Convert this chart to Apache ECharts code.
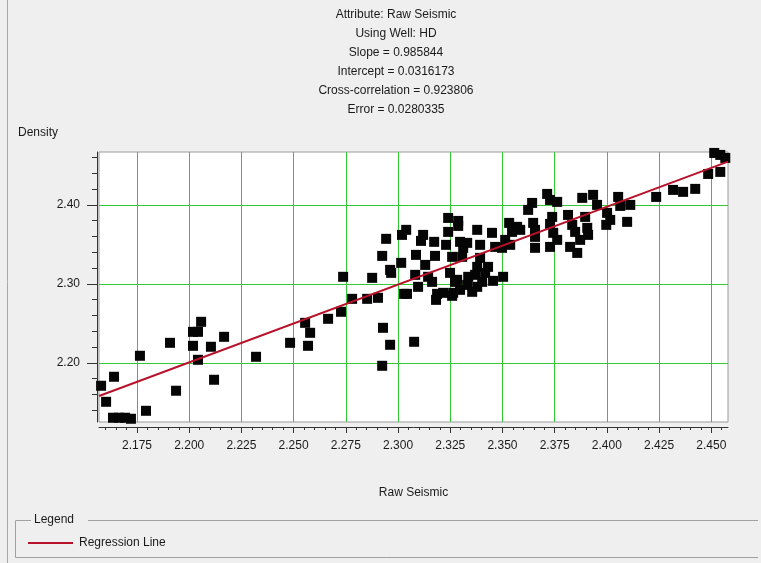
<!DOCTYPE html>
<html>
<head>
<meta charset="utf-8">
<script src="https://cdn.jsdelivr.net/npm/echarts@6/dist/echarts.min.js"></script>
<style>
  html, body { margin: 0; padding: 0; background: #efefef; }
  #chart { width: 761px; height: 563px; }
</style>
</head>
<body>
<div id="chart"></div>
<script>
// Header lines shown above the crossplot
const headerLines = [
  'Attribute: Raw Seismic',
  'Using Well: HD',
  'Slope = 0.985844',
  'Intercept = 0.0316173',
  'Cross-correlation = 0.923806',
  'Error = 0.0280335'
];

// Regression coefficients
const slope = 0.985844;
const intercept = 0.0316173;

// Sample pairs: seismic attribute (x) and well density (y)
const rawSeismic = [
  2.1578, 2.1640, 2.1602, 2.1635, 2.1664, 2.1693, 2.1721, 2.1764, 2.1793, 2.1908,
  2.1937, 2.2018, 2.2042, 2.2057, 2.2018, 2.2042, 2.2104, 2.2167, 2.2119, 2.2320,
  2.2483, 2.2569, 2.2579, 2.2555, 2.2665, 2.2727, 2.2737, 2.2780, 2.2852, 2.2876,
  2.2904, 2.2928, 2.2962, 2.2924, 2.2924, 2.2943, 2.2962, 2.3015, 2.3019, 2.3029,
  2.3077, 2.3039, 2.3120, 2.3110, 2.3173, 2.3240, 2.3288, 2.3240, 2.3230, 2.3379,
  2.3086, 2.3177, 2.2967, 2.3130, 2.3096, 2.3043, 2.3144, 2.3187, 2.3182, 2.3216,
  2.3264, 2.3297, 2.3283, 2.3297, 2.3331, 2.3312, 2.3450, 2.3393, 2.3465, 2.3513,
  2.3259, 2.3307, 2.3393, 2.3379, 2.3431, 2.3082, 2.3163, 2.3249, 2.3273, 2.3336,
  2.3369, 2.3403, 2.3417, 2.3455, 2.3503, 2.3259, 2.3331, 2.3379, 2.3355, 2.3288,
  2.3714, 2.3728, 2.3762, 2.3642, 2.3623, 2.3532, 2.3570, 2.3546, 2.3585, 2.3537,
  2.3498, 2.3647, 2.3656, 2.3656, 2.3656, 2.3738, 2.3728, 2.3743, 2.3762, 2.3728,
  2.3814, 2.3834, 2.3848, 2.3824, 2.3858, 2.3882, 2.3934, 2.3953, 2.3896, 2.3906,
  2.3910, 2.3872, 2.4001, 2.4016, 2.3997, 2.4054, 2.4514, 2.4543, 2.4567, 2.4543,
  2.4485, 2.4423, 2.4365, 2.4317, 2.4236, 2.4112, 2.4097, 2.4064
];
const density = [
  2.1709, 2.1823, 2.1506, 2.1304, 2.1304, 2.1304, 2.1291, 2.2089, 2.1392, 2.2253,
  2.1646, 2.2392, 2.2392, 2.2519, 2.2215, 2.2038, 2.2203, 2.2329, 2.1785, 2.2076,
  2.2253, 2.2215, 2.2380, 2.2506, 2.2557, 2.2646, 2.3089, 2.2810, 2.2810, 2.3076,
  2.2823, 2.2443, 2.2228, 2.1962, 2.3354, 2.3570, 2.3177, 2.3266, 2.3620, 2.2873,
  2.2266, 2.3684, 2.3620, 2.3544, 2.3532, 2.3835, 2.3797, 2.3658, 2.3494, 2.3684,
  2.3367, 2.3354, 2.3139, 2.3240, 2.2962, 2.2873, 2.3089, 2.2873, 2.2797, 2.2886,
  2.2886, 2.2924, 2.3051, 2.3532, 2.3519, 2.3456, 2.3646, 2.3494, 2.3468, 2.3557,
  2.3342, 2.3342, 2.3329, 2.3215, 2.3215, 2.3114, 2.3025, 2.3139, 2.3025, 2.3089,
  2.3114, 2.3025, 2.3139, 2.3038, 2.3089, 2.2848, 2.2987, 2.2962, 2.2899, 2.3734,
  2.4139, 2.4063, 2.4038, 2.4025, 2.3937, 2.3772, 2.3722, 2.3658, 2.3684, 2.3494,
  2.3456, 2.3772, 2.3684, 2.3595, 2.3456, 2.3848, 2.3759, 2.3646, 2.3557, 2.3468,
  2.3873, 2.3747, 2.3658, 2.3468, 2.3392, 2.4089, 2.4127, 2.4000, 2.3848, 2.3709,
  2.3620, 2.3557, 2.3899, 2.3810, 2.3747, 2.4101, 2.4658, 2.4633, 2.4595, 2.4418,
  2.4392, 2.4203, 2.4165, 2.4190, 2.4101, 2.4000, 2.3785, 2.3987
];

// Labelled tick positions
const xTickValues = [2.175, 2.200, 2.225, 2.250, 2.275, 2.300, 2.325, 2.350, 2.375, 2.400, 2.425, 2.450];
const yTickValues = [2.20, 2.30, 2.40];

// Axis extents
const xMin = 2.1568, xMax = 2.458;
const yMin = 2.125, yMax = 2.467;

// Unlabelled minor ticks: every 0.005 on x, every 0.02 on y
const xMinorTicks = [];
for (let i = 432; i <= 491; i++) { if (i % 5 !== 0) xMinorTicks.push(i / 200); }
const yMinorTicks = [];
for (let i = 107; i <= 123; i++) { if (i % 5 !== 0) yMinorTicks.push(i / 50); }

const samples = rawSeismic.map((x, i) => [x, density[i]]);
const regression = [xMin, xMax].map(x => [x, slope * x + intercept]);

const font = '"Liberation Sans", Arial, sans-serif';
const ink = '#1a1a1a';
const gridGreen = '#35c835';
const lineRed = '#b8122b';

const chart = echarts.init(document.getElementById('chart'), null, { renderer: 'canvas' });

chart.setOption({
  backgroundColor: '#efefef',
  animation: false,
  textStyle: { fontFamily: font },
  title: {
    text: headerLines.join('\n'),
    left: 391,
    top: 0,
    textAlign: 'center',
    textStyle: { fontSize: 12, fontWeight: 'normal', color: ink, lineHeight: 19, fontFamily: font }
  },
  grid: {
    left: 99, right: 33, top: 152, bottom: 141,
    show: true, backgroundColor: '#ffffff', borderColor: '#9a9a9a', borderWidth: 1
  },
  legend: {
    data: ['Regression Line'],
    left: 23, top: 532,
    icon: 'rect', itemWidth: 45, itemHeight: 2, itemGap: 10,
    textStyle: { fontSize: 12, color: ink, fontFamily: font, padding: [0, 0, 0, 1] }
  },
  xAxis: [{
    type: 'value', min: xMin, max: xMax, position: 'bottom', offset: 5,
    name: 'Raw Seismic', nameLocation: 'middle', nameGap: 60,
    nameTextStyle: { fontSize: 12, color: ink, fontFamily: font },
    axisLine: { show: true, lineStyle: { color: '#333', width: 1 } },
    axisTick: { show: true, customValues: xTickValues, length: 6, lineStyle: { color: '#333' } },
    axisLabel: { customValues: xTickValues, margin: 13, fontSize: 12, color: ink, fontFamily: font,
                 formatter: v => v.toFixed(3) },
    splitLine: { show: true, lineStyle: { color: gridGreen, width: 1 } }
  }, {
    type: 'value', min: xMin, max: xMax, position: 'bottom', offset: 5,
    axisLine: { show: false },
    axisTick: { show: true, customValues: xMinorTicks, length: 3, lineStyle: { color: '#333' } },
    axisLabel: { show: false },
    splitLine: { show: false }
  }],
  yAxis: [{
    type: 'value', min: yMin, max: yMax, position: 'left', offset: 2,
    axisLine: { show: true, lineStyle: { color: '#333', width: 1 } },
    axisTick: { show: true, customValues: yTickValues, length: 10, lineStyle: { color: '#333' } },
    axisLabel: { customValues: yTickValues, margin: 17, fontSize: 12, color: ink, fontFamily: font,
                 formatter: v => v.toFixed(2) },
    splitLine: { show: true, lineStyle: { color: gridGreen, width: 1 } }
  }, {
    type: 'value', min: yMin, max: yMax, position: 'left', offset: 2,
    axisLine: { show: false },
    axisTick: { show: true, customValues: yMinorTicks, length: 5, lineStyle: { color: '#333' } },
    axisLabel: { show: false },
    splitLine: { show: false }
  }],
  series: [{
    name: 'Samples',
    type: 'scatter',
    data: samples,
    symbol: 'rect',
    symbolSize: 10,
    clip: true,
    itemStyle: { color: '#050505', opacity: 1 },
    z: 3
  }, {
    name: 'Regression Line',
    type: 'line',
    data: regression,
    color: lineRed,
    showSymbol: false,
    symbol: 'none',
    clip: true,
    lineStyle: { color: lineRed, width: 2 },
    itemStyle: { color: lineRed },
    z: 4
  }],
  graphic: [
    // window frame on the left
    { type: 'line', shape: { x1: 7.5, y1: 0, x2: 7.5, y2: 563 }, style: { stroke: '#a8a8a8', lineWidth: 1 } },
    // y axis caption
    { type: 'text', left: 18, top: 127, style: { text: 'Density', fontSize: 12, fill: ink, fontFamily: font } },
    // legend group box
    { type: 'polyline', shape: { points: [[31, 520.5], [15.5, 520.5], [15.5, 557.5], [758, 557.5]] },
      style: { stroke: '#a0a0a0', lineWidth: 1, fill: null } },
    { type: 'line', shape: { x1: 88, y1: 520.5, x2: 758, y2: 520.5 }, style: { stroke: '#a0a0a0', lineWidth: 1 } },
    { type: 'text', left: 34, top: 514, style: { text: 'Legend', fontSize: 12, fill: ink, fontFamily: font } }
  ]
});
</script>
</body>
</html>
